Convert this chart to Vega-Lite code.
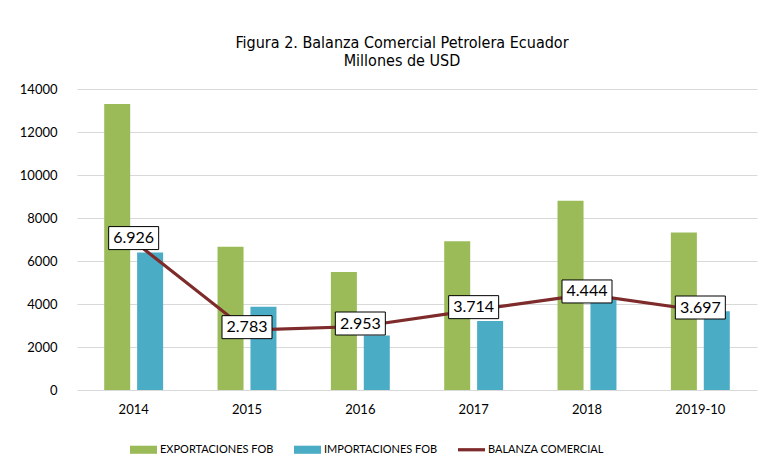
{
  "$schema": "https://vega.github.io/schema/vega-lite/v6.json",
  "width": 680,
  "height": 301,
  "autosize": {"type": "none"},
  "padding": {"left": 77, "top": 89, "right": 27, "bottom": 70},
  "background": "white",
  "config": {
    "view": {"stroke": null},
    "font": "Lato",
    "locale": {"number": {"decimal": ",", "thousands": ".", "grouping": [3], "currency": ["$", ""]}}
  },
  "title": {
    "text": "Figura 2. Balanza Comercial Petrolera Ecuador",
    "subtitle": "Millones de USD",
    "font": "DejaVu Sans Condensed, Liberation Sans, sans-serif",
    "subtitleFont": "DejaVu Sans Condensed, Liberation Sans, sans-serif",
    "fontSize": 16,
    "subtitleFontSize": 16,
    "fontWeight": "normal",
    "color": "#000000",
    "subtitleColor": "#000000",
    "anchor": "middle",
    "frame": "group",
    "dx": -15,
    "offset": 14,
    "subtitlePadding": 2
  },
  "datasets": {
    "barras": [
      {"anio": "2014", "serie": "EXPORTACIONES FOB", "valor": 13300},
      {"anio": "2014", "serie": "IMPORTACIONES FOB", "valor": 6400},
      {"anio": "2015", "serie": "EXPORTACIONES FOB", "valor": 6660},
      {"anio": "2015", "serie": "IMPORTACIONES FOB", "valor": 3870},
      {"anio": "2016", "serie": "EXPORTACIONES FOB", "valor": 5490},
      {"anio": "2016", "serie": "IMPORTACIONES FOB", "valor": 2540},
      {"anio": "2017", "serie": "EXPORTACIONES FOB", "valor": 6920},
      {"anio": "2017", "serie": "IMPORTACIONES FOB", "valor": 3210},
      {"anio": "2018", "serie": "EXPORTACIONES FOB", "valor": 8800},
      {"anio": "2018", "serie": "IMPORTACIONES FOB", "valor": 4330},
      {"anio": "2019-10", "serie": "EXPORTACIONES FOB", "valor": 7330},
      {"anio": "2019-10", "serie": "IMPORTACIONES FOB", "valor": 3660}
    ],
    "balanza": [
      {"anio": "2014", "serie": "BALANZA COMERCIAL", "valor": 6926},
      {"anio": "2015", "serie": "BALANZA COMERCIAL", "valor": 2783},
      {"anio": "2016", "serie": "BALANZA COMERCIAL", "valor": 2953},
      {"anio": "2017", "serie": "BALANZA COMERCIAL", "valor": 3714},
      {"anio": "2018", "serie": "BALANZA COMERCIAL", "valor": 4444},
      {"anio": "2019-10", "serie": "BALANZA COMERCIAL", "valor": 3697}
    ]
  },
  "encoding": {
    "x": {
      "field": "anio",
      "type": "nominal",
      "sort": null,
      "scale": {"paddingInner": 0.48, "paddingOuter": 0.24},
      "axis": {
        "title": null,
        "labelAngle": 0,
        "domain": false,
        "ticks": false,
        "labelPadding": 13,
        "labelFontSize": 13,
        "labelColor": "#000000"
      }
    },
    "y": {
      "field": "valor",
      "type": "quantitative",
      "scale": {"domain": [0, 14000]},
      "axis": {
        "title": null,
        "values": [0, 2000, 4000, 6000, 8000, 10000, 12000, 14000],
        "format": "d",
        "domain": false,
        "ticks": false,
        "labelPadding": 20,
        "labelFontSize": 13,
        "labelColor": "#000000",
        "gridColor": "#d9d9d9",
        "gridWidth": 1
      }
    }
  },
  "layer": [
    {
      "data": {"name": "barras"},
      "mark": {"type": "bar"},
      "encoding": {
        "xOffset": {
          "field": "serie",
          "type": "nominal",
          "sort": ["EXPORTACIONES FOB", "IMPORTACIONES FOB"],
          "scale": {"paddingInner": 0.21, "paddingOuter": 0}
        },
        "color": {
          "field": "serie",
          "type": "nominal",
          "scale": {
            "domain": ["EXPORTACIONES FOB", "IMPORTACIONES FOB", "BALANZA COMERCIAL"],
            "range": ["#9BBB59", "#4BACC6", "#7E2B2B"]
          },
          "legend": {
            "orient": "none",
            "legendX": 53,
            "legendY": 347,
            "direction": "horizontal",
            "columns": 3,
            "columnPadding": 20,
            "title": null,
            "labelFontSize": 11,
            "labelColor": "#000000",
            "labelFont": "Lato",
            "labelOffset": 3,
            "symbolSize": 729,
            "symbolStrokeWidth": 0,
            "encode": {
              "symbols": {
                "update": {
                  "shape": {"signal": "datum.value === 'BALANZA COMERCIAL' ? 'M-1,-0.12H1V0.12H-1Z' : 'M-1,-0.3H1V0.3H-1Z'"},
                  "fill": {"scale": "color", "field": "value"},
                  "fillOpacity": {"value": 1},
                  "stroke": {"value": "transparent"},
                  "opacity": {"value": 1}
                }
              }
            }
          }
        }
      }
    },
    {
      "data": {"name": "balanza"},
      "mark": {"type": "line", "strokeWidth": 3.2},
      "encoding": {
        "color": {"field": "serie", "type": "nominal"}
      }
    },
    {
      "data": {"name": "balanza"},
      "mark": {
        "type": "point",
        "shape": "M-1,-0.46H1V0.46H-1Z",
        "size": 2500,
        "filled": true,
        "fill": "white",
        "stroke": "black",
        "strokeWidth": 1,
        "opacity": 1,
        "yOffset": -3
      }
    },
    {
      "data": {"name": "balanza"},
      "mark": {"type": "text", "fontSize": 16, "color": "#000000", "yOffset": -3, "baseline": "middle"},
      "encoding": {
        "text": {"field": "valor", "type": "quantitative", "format": ",.0f"}
      }
    }
  ]
}
